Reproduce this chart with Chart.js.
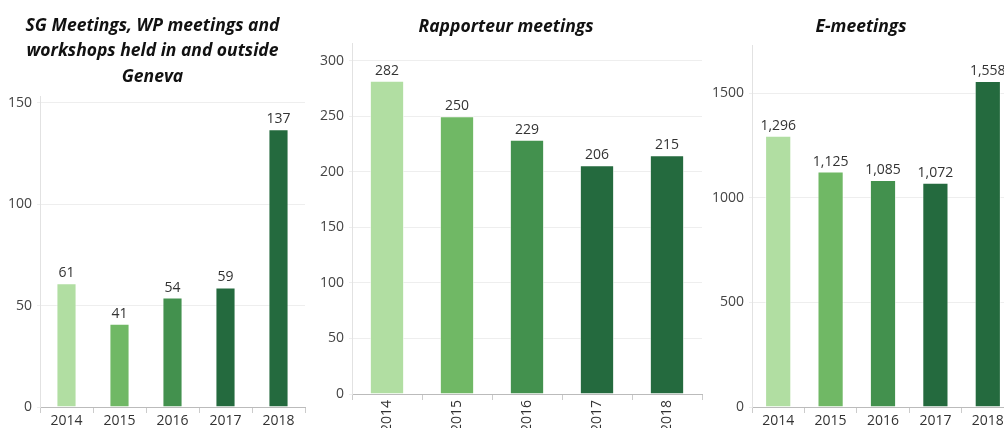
<!DOCTYPE html>
<html>
<head>
<meta charset="utf-8">
<script src="https://cdn.jsdelivr.net/npm/chart.js@4.4.1/dist/chart.umd.min.js"></script>
<style>
  html, body { margin: 0; padding: 0; background: #fff; overflow: hidden; width: 1004px; height: 428px; }
  .panel { position: absolute; top: 0; height: 440px; }
  .panel canvas { display: block; }
</style>
</head>
<body>
<div class="panel" id="p1" style="left:0px;width:310px;"><canvas id="c1"></canvas></div>
<div class="panel" id="p2" style="left:310px;width:394px;"><canvas id="c2"></canvas></div>
<div class="panel" id="p3" style="left:708px;width:310px;"><canvas id="c3"></canvas></div>
<script>
const years = ['2014', '2015', '2016', '2017', '2018'];
const sgMeetings = [61, 41, 54, 59, 137];
const rapporteurMeetings = [282, 250, 229, 206, 215];
const eMeetings = [1296, 1125, 1085, 1072, 1558];
const sgTicks = [0, 50, 100, 150];
const rapporteurTicks = [0, 50, 100, 150, 200, 250, 300];
const eTicks = [0, 500, 1000, 1500];
const barColors = ['#b1dea2', '#70b865', '#43914e', '#246a3e', '#246a3e'];

const titleFont = "'Open Sans', 'Liberation Sans', sans-serif";
const bodyFont = "'Open Sans', 'Liberation Sans', sans-serif";

const valueLabels = {
  id: 'valueLabels',
  afterDatasetsDraw(chart) {
    const ctx = chart.ctx;
    const ds = chart.data.datasets[0];
    const meta = chart.getDatasetMeta(0);
    ctx.save();
    ctx.font = "14px " + bodyFont;
    ctx.fillStyle = '#333';
    ctx.textAlign = 'center';
    ctx.textBaseline = 'bottom';
    meta.data.forEach((bar, i) => {
      ctx.fillText(ds.data[i].toLocaleString('en-US'), bar.x, bar.y - 3);
    });
    ctx.restore();
  }
};

function makeChart(id, values, opts) {
  return new Chart(document.getElementById(id), {
    type: 'bar',
    data: {
      labels: years,
      datasets: [{
        data: values,
        backgroundColor: barColors,
        borderColor: 'rgba(255,255,255,0.6)',
        borderWidth: 1,
        barPercentage: opts.barPct,
        categoryPercentage: 1
      }]
    },
    options: {
      responsive: true,
      maintainAspectRatio: false,
      animation: false,
      layout: { padding: { top: 0, right: opts.padRight, bottom: 0, left: 0 } },
      plugins: {
        legend: { display: false },
        tooltip: { enabled: false },
        title: {
          display: true,
          text: opts.title,
          color: '#111',
          font: { family: titleFont, size: 17.5, weight: 'bold', style: 'italic', lineHeight: '25.6px' },
          padding: { top: opts.titleTop, bottom: opts.titleBottom }
        }
      },
      scales: {
        x: {
          grid: { drawOnChartArea: false, drawTicks: true, tickLength: 6, color: '#ccc', offset: true },
          border: { display: true, color: '#bbb', dash: [2, 2] },
          ticks: {
            color: '#333',
            font: { family: bodyFont, size: 14 },
            padding: 0,
            maxRotation: opts.rot,
            minRotation: opts.rot,
            autoSkip: false
          },
          afterFit(scale) { scale.height = opts.xHeight; }
        },
        y: {
          min: 0,
          max: opts.max,
          grid: { color: '#eeeeee', drawTicks: true, tickLength: 3 },
          border: { display: true, color: '#e2e2e2' },
          ticks: {
            color: '#444',
            font: { family: bodyFont, size: 14 },
            padding: 5,
            autoSkip: false,
            callback: (v) => String(v)
          },
          afterBuildTicks(scale) { scale.ticks = opts.ticks.map(v => ({ value: v })); },
          afterFit(scale) { scale.width = opts.yWidth; }
        }
      }
    },
    plugins: [valueLabels]
  });
}

makeChart('c1', sgMeetings, {
  title: ['SG Meetings, WP meetings and', 'workshops held in and outside', 'Geneva'],
  titleTop: 13, titleBottom: 7, ticks: sgTicks,
  max: 153, yWidth: 40, padRight: 5, xHeight: 33, barPct: 0.38, rot: 0
});
makeChart('c2', rapporteurMeetings, {
  title: 'Rapporteur meetings',
  titleTop: 14, titleBottom: 3.4, ticks: rapporteurTicks,
  max: 316, yWidth: 42, padRight: 2, xHeight: 46, barPct: 0.49, rot: 90
});
makeChart('c3', eMeetings, {
  title: 'E-meetings',
  titleTop: 14, titleBottom: 5.4, ticks: eTicks,
  max: 1730, yWidth: 44, padRight: 4, xHeight: 33, barPct: 0.5, rot: 0
});
</script>
</body>
</html>
